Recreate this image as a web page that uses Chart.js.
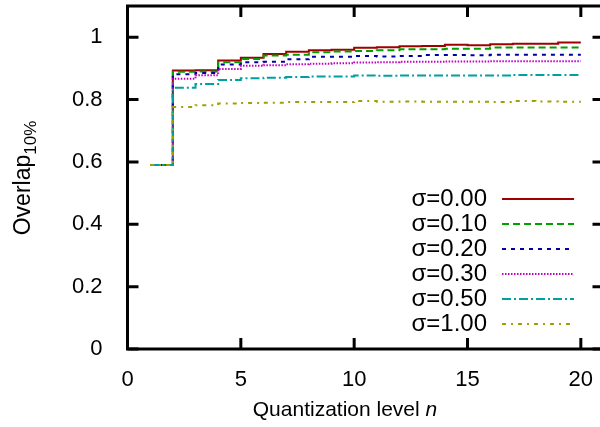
<!DOCTYPE html>
<html>
<head>
<meta charset="utf-8">
<script src="https://cdn.jsdelivr.net/npm/chart.js@4"></script>
<style>
  html, body { margin: 0; padding: 0; background: #fff; overflow: hidden; }
</style>
</head>
<body>
<canvas id="overlap-chart" width="612" height="427"></canvas>
<script>
// quantization levels n (value at n holds until n+1, gnuplot "steps")
const levels = [1, 2, 3, 4, 5, 6, 7, 8, 9, 10, 11, 12, 13, 14, 15, 16, 17, 18, 19, 20];

const sigmaLabels = ["σ=0.00", "σ=0.10", "σ=0.20", "σ=0.30", "σ=0.50", "σ=1.00"];

const overlapS000 = [0.59, 0.893, 0.894, 0.925, 0.934, 0.946, 0.953, 0.958, 0.960, 0.966,
  0.968, 0.971, 0.972, 0.976, 0.974, 0.977, 0.979, 0.979, 0.983, 0.983];
const overlapS010 = [0.59, 0.889, 0.890, 0.920, 0.930, 0.941, 0.944, 0.952, 0.954, 0.956,
  0.958, 0.961, 0.961, 0.963, 0.963, 0.967, 0.967, 0.967, 0.967, 0.967];
const overlapS020 = [0.59, 0.881, 0.885, 0.912, 0.920, 0.921, 0.929, 0.937, 0.937, 0.940,
  0.938, 0.940, 0.943, 0.943, 0.942, 0.944, 0.944, 0.944, 0.944, 0.944];
const overlapS030 = [0.59, 0.867, 0.878, 0.898, 0.908, 0.910, 0.913, 0.915, 0.916, 0.919,
  0.920, 0.921, 0.921, 0.922, 0.922, 0.923, 0.923, 0.923, 0.923, 0.923];
const overlapS050 = [0.59, 0.838, 0.850, 0.863, 0.868, 0.870, 0.872, 0.874, 0.874, 0.877,
  0.876, 0.877, 0.877, 0.877, 0.877, 0.877, 0.879, 0.879, 0.879, 0.879];
const overlapS100 = [0.59, 0.776, 0.782, 0.787, 0.789, 0.790, 0.792, 0.792, 0.792, 0.795,
  0.793, 0.794, 0.793, 0.793, 0.793, 0.792, 0.795, 0.794, 0.793, 0.793];

const xTicks = [0, 5, 10, 15, 20];
const yTicks = [0, 0.2, 0.4, 0.6, 0.8, 1];

const seriesValues = [overlapS000, overlapS010, overlapS020, overlapS030, overlapS050, overlapS100];
const seriesColors = ["#a00000", "#00a000", "#0000a0", "#c000c0", "#00a0a0", "#a0a000"];
const seriesDashes = [[], [7, 4], [4, 5], [1.5, 1.5], [9, 3, 2, 3], [4, 5, 2, 5]];

const FONT = '"Liberation Sans", Arial, sans-serif';

// frame with inward ticks on all four sides, gnuplot style
const framePlugin = {
  id: "frame",
  afterDatasetsDraw(chart) {
    const { ctx, chartArea: a, scales } = chart;
    ctx.save();
    ctx.strokeStyle = "#000";
    ctx.lineWidth = 3;
    ctx.setLineDash([]);
    ctx.strokeRect(a.left, a.top, a.right - a.left, a.bottom - a.top);
    ctx.beginPath();
    xTicks.forEach((v) => {
      const px = scales.x.getPixelForValue(v);
      ctx.moveTo(px, a.bottom); ctx.lineTo(px, a.bottom - 11);
      ctx.moveTo(px, a.top); ctx.lineTo(px, a.top + 11);
    });
    yTicks.forEach((v) => {
      const py = scales.y.getPixelForValue(v);
      ctx.moveTo(a.left, py); ctx.lineTo(a.left + 11, py);
      ctx.moveTo(a.right, py); ctx.lineTo(a.right - 11, py);
    });
    ctx.stroke();

    // key
    ctx.font = "24px " + FONT;
    ctx.textAlign = "right";
    ctx.textBaseline = "middle";
    ctx.fillStyle = "#000";
    sigmaLabels.forEach((lab, i) => {
      const ky = 199 + i * 25;
      ctx.fillText(lab, 487, ky);
      ctx.beginPath();
      ctx.strokeStyle = seriesColors[i];
      ctx.lineWidth = 2;
      ctx.setLineDash(seriesDashes[i]);
      ctx.moveTo(502, ky); ctx.lineTo(574, ky);
      ctx.stroke();
    });
    ctx.setLineDash([]);

    // y title with subscript
    ctx.translate(24, 178);
    ctx.rotate(-Math.PI / 2);
    ctx.textAlign = "left";
    ctx.font = "23px " + FONT;
    const main = "Overlap";
    const mw = ctx.measureText(main).width;
    ctx.font = "17px " + FONT;
    const sw = ctx.measureText("10%").width;
    const start = -(mw + sw) / 2;
    ctx.font = "23px " + FONT;
    ctx.fillText(main, start, 0);
    ctx.font = "17px " + FONT;
    ctx.fillText("10%", start + mw, 7);
    ctx.setTransform(1, 0, 0, 1, 0, 0);

    // x title, italic n
    ctx.font = "21px " + FONT;
    const xt = "Quantization level ";
    const xw = ctx.measureText(xt).width;
    ctx.font = "italic 21px " + FONT;
    const nw = ctx.measureText("n").width;
    const xs = 345 - (xw + nw) / 2;
    ctx.textAlign = "left";
    ctx.font = "21px " + FONT;
    ctx.fillText(xt, xs, 410);
    ctx.font = "italic 21px " + FONT;
    ctx.fillText("n", xs + xw, 410);
    ctx.restore();
  },
};

const datasets = seriesValues.map((vals, i) => ({
  label: sigmaLabels[i],
  data: levels.map((n, j) => ({ x: n, y: vals[j] })),
  borderColor: seriesColors[i],
  borderDash: seriesDashes[i],
  borderWidth: 2,
  pointRadius: 0,
  stepped: "before",
  fill: false,
  order: -i,
}));

const ctx = document.getElementById("overlap-chart").getContext("2d");
new Chart(ctx, {
  type: "line",
  data: { datasets },
  options: {
    responsive: false,
    animation: false,
    layout: { autoPadding: false, padding: { top: 6, right: 8.5, left: 0, bottom: 0 } },
    plugins: { legend: { display: false }, tooltip: { enabled: false } },
    scales: {
      x: {
        type: "linear",
        min: 0,
        max: 21,
        grid: { display: false },
        border: { display: false },
        afterFit: (s) => { s.height = 78; s.paddingLeft = 0; s.paddingRight = 0; },
        afterBuildTicks: (s) => { s.ticks = xTicks.map((v) => ({ value: v })); },
        ticks: {
          padding: 10,
          color: "#000",
          font: { family: FONT, size: 22 },
          maxRotation: 0,
          callback: (v) => String(v),
        },
      },
      y: {
        min: 0,
        max: 1.1,
        grid: { display: false },
        border: { display: false },
        afterFit: (s) => { s.width = 127.5; s.paddingTop = 0; s.paddingBottom = 0; },
        afterBuildTicks: (s) => { s.ticks = yTicks.map((v) => ({ value: v })); },
        ticks: {
          padding: 17,
          color: "#000",
          font: { family: FONT, size: 22 },
          callback: (v) => String(+v.toFixed(1)),
        },
      },
    },
  },
  plugins: [framePlugin],
});
</script>
</body>
</html>
